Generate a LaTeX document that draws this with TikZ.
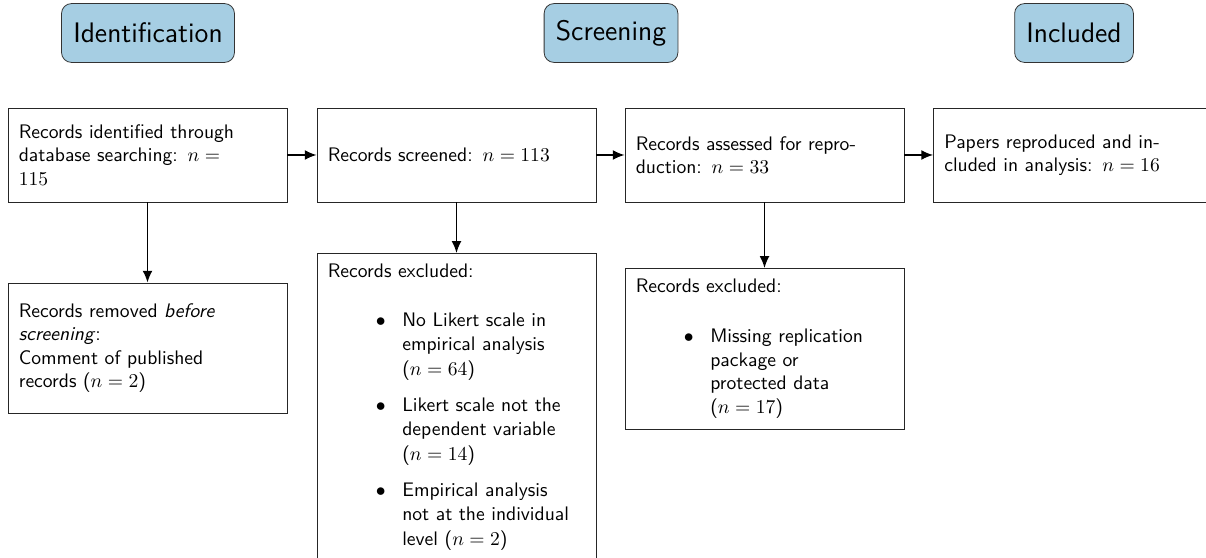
\documentclass[tikz,border=0pt]{standalone}
\usepackage{enumitem}
\usetikzlibrary{arrows.meta}
\definecolor{phaseblue}{RGB}{166,206,227}
\begin{document}
\begin{tikzpicture}[x=0.5102pt,y=-0.5102pt,font=\sffamily,
  phase/.style={draw=black!80,fill=phaseblue,rounded corners=5pt,font=\Large\sffamily,
    minimum height=30pt,inner xsep=6pt},
  box/.style={draw=black!85,text width=131.3pt,inner sep=5.5pt,align=left,
    minimum height=48pt,execute at begin node={\setlength{\parindent}{0pt}}},
  arr/.style={thick,-{Latex[length=6pt,width=5pt]}}]
\clip (0,0) rectangle (1206,558);
\node[phase] (hid) at (148,33) {Identification};
\node[phase] (hsc) at (611,33) {Screening};
\node[phase] (hin) at (1074,33) {Included};

\node[box] (b1) at (147.5,155) {Records identified through\\database searching: $n =$\\$115$};
\node[box] (b2) at (456.5,155) {Records screened: $n = 113$};
\node[box] (b3) at (764.5,155) {Records assessed for repro-\\duction: $n = 33$};
\node[box] (b4) at (1073,155) {Papers reproduced and in-\\cluded in analysis: $n = 16$};

\node[box,minimum height=66.3pt] (rem) at (147.5,348) {Records removed \textit{before}\\\textit{screening}:\\Comment of published\\records ($n = 2$)};

\node[box,anchor=north,font=\sffamily\fontsize{10}{12.35}\selectfont] (ex1) at (456.5,253) {Records excluded:\par\vspace{12.6pt}%
\begin{itemize}[label=$\bullet$,leftmargin=38pt,labelsep=8.5pt,topsep=0pt,partopsep=0pt,parsep=0pt,itemsep=6.3pt]
\item No Likert scale in\\empirical analysis\\($n = 64$)
\item Likert scale not the\\dependent variable\\($n = 14$)
\item Empirical analysis\\not at the individual\\level ($n = 2$)
\end{itemize}\par\vspace{8pt}};

\node[box,anchor=north] (ex2) at (764.5,268) {Records excluded:\par\vspace{13.5pt}%
\begin{itemize}[label=$\bullet$,leftmargin=38pt,labelsep=8.5pt,topsep=0pt,partopsep=0pt,parsep=0pt,itemsep=6pt]
\item Missing replication\\package or\\protected data\\($n = 17$)
\end{itemize}};

\draw[arr] (b1) -- (b2);
\draw[arr] (b2) -- (b3);
\draw[arr] (b3) -- (b4);
\draw[arr] (b1) -- (rem);
\draw[arr] (b2) -- (ex1);
\draw[arr] (b3) -- (ex2);
\end{tikzpicture}
\end{document}
